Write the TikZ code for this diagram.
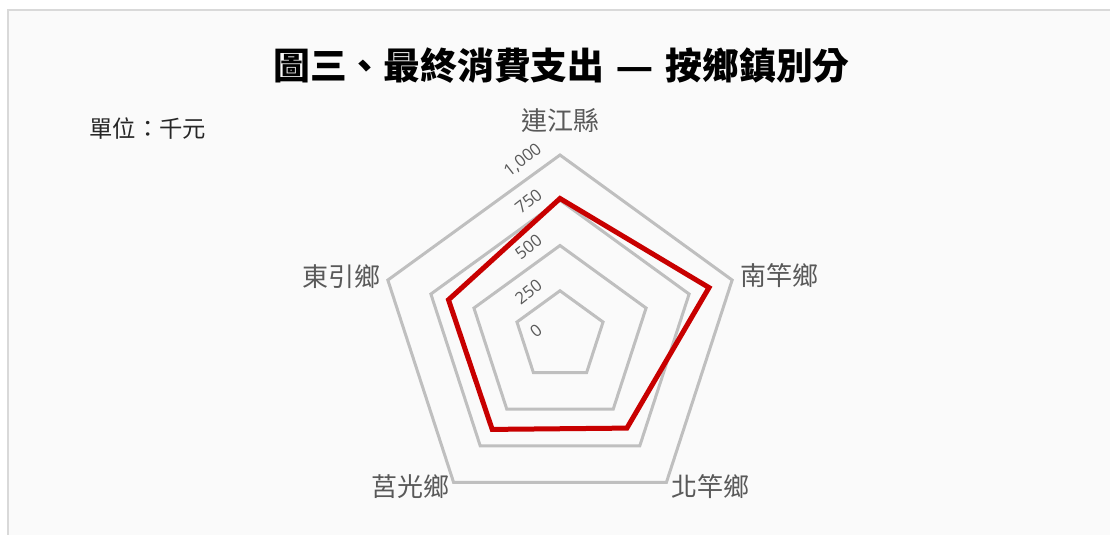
\documentclass[tikz,border=0pt]{standalone}
\usepackage{fontspec}
\setmainfont{Open Sans}
\newfontfamily\cjk{Noto Sans CJK TC}
\tikzset{every picture/.style={line width=0.75pt}}
\tikzset{
  ring/.style={color={rgb, 255:red, 191; green, 191; blue, 191 }, line width=2.25},
  series/.style={color={rgb, 255:red, 200; green, 0; blue, 0 }, line width=3.75},
  catlabel/.style={inner sep=0pt, color={rgb, 255:red, 89; green, 89; blue, 89 }, font=\cjk\fontsize{19.5}{23}\selectfont},
  vallabel/.style={anchor=east, inner sep=0pt, rotate=38, color={rgb, 255:red, 89; green, 89; blue, 89 }, font=\fontsize{12.5}{14}\selectfont},
}

\begin{document}
\begin{tikzpicture}[x=0.75pt,y=0.75pt,yscale=-1,xscale=1]
\useasboundingbox (0,0) rectangle (1110,535);
\draw  [color={rgb, 255:red, 217; green, 217; blue, 217 }  ,draw opacity=1 ][fill={rgb, 255:red, 250; green, 250; blue, 250 }  ,fill opacity=1 ][line width=1.5] (7.5,10.5) rectangle (1125,550) ;

\draw (561.5,66) node (title) [inner sep=0pt] [font=\cjk\bfseries\fontsize{27.6}{33}\selectfont] {圖三、最終消費支出\hspace{0.33em}{\rmfamily —}\hspace{0.33em}按鄉鎮別分};
\draw (89,129) node (unit) [anchor=west][inner sep=0pt] [color={rgb, 255:red, 38; green, 38; blue, 38 }  ,opacity=1 ] [font=\cjk\fontsize{17.5}{21}\selectfont] {單位：千元};

\draw [ring] (560,290.75) -- (603.04,322.02) -- (586.6,372.61) -- (533.4,372.61) -- (516.96,322.02) -- cycle ;
\draw [ring] (560,245.5) -- (646.07,308.04) -- (613.2,409.21) -- (506.8,409.21) -- (473.93,308.04) -- cycle ;
\draw [ring] (560,200.25) -- (689.11,294.05) -- (639.79,445.82) -- (480.21,445.82) -- (430.89,294.05) -- cycle ;
\draw [ring] (560,155) -- (732.15,280.07) -- (666.39,482.43) -- (453.61,482.43) -- (387.85,280.07) -- cycle ;

\draw (540,328) node (v0) [vallabel] {0};
\draw (540,282.75) node (v250) [vallabel] {250};
\draw (540,237.5) node (v500) [vallabel] {500};
\draw (540,192.25) node (v750) [vallabel] {750};
\draw (540,147) node (v1000) [vallabel] {1,000};

\draw [series] (560,198.5) -- (709,287.6) -- (626.9,428.1) -- (492.2,429.4) -- (448.5,299.8) -- cycle ;

\draw (560.5,120.5) node (lianjiang) [catlabel] {連江縣};
\draw (779.5,275.5) node (nangan) [catlabel] {南竿鄉};
\draw (710.5,487) node (beigan) [catlabel] {北竿鄉};
\draw (410,487) node (juguang) [catlabel] {莒光鄉};
\draw (341.5,276.5) node (dongyin) [catlabel] {東引鄉};
\end{tikzpicture}
\end{document}
